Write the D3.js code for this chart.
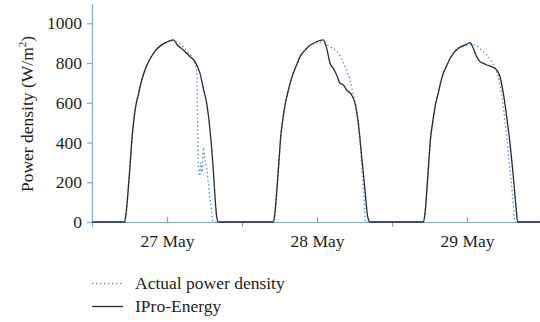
<!DOCTYPE html>
<html>
<head>
<meta charset="utf-8">
<script src="https://cdn.jsdelivr.net/npm/d3@7"></script>
<style>
  body { margin: 0; background: #fff; }
  svg { display: block; font-family: "Liberation Serif", "DejaVu Serif", serif; }
</style>
</head>
<body>
<svg id="chart" width="540" height="322"></svg>
<script>
// hours counted from 27 May 00:00
var dayLabels = ["27 May", "28 May", "29 May"];
var dayMidHours = [12, 36, 60];
var dayEdgeHours = [0, 24, 48, 72];
var yTicks = [0, 200, 400, 600, 800, 1000];

var iproHours = [0, 5.2, 5.44, 5.76, 6.08, 6.4, 6.72, 7.04, 7.41, 7.84, 8.21, 8.8, 9.28, 10.08, 10.88, 11.95, 13.0,
  13.65, 14.6, 15.68, 16.48, 17.28, 17.81, 18.35, 18.88, 19.41, 19.68, 19.95, 20.21,
  29.0, 29.25, 29.55, 29.9, 30.2, 30.55, 30.9, 31.3, 31.8, 32.2, 32.8, 33.3, 34.1, 34.6, 35.9, 37.0,
  37.55, 38.08, 38.61, 39.15, 39.68, 40.21, 40.75, 41.55, 42.08, 42.61, 43.15, 43.68, 44.11, 44.48,
  53.0, 53.3, 53.6, 53.9, 54.2, 54.6, 54.95, 55.4, 55.8, 56.2, 56.8, 57.3, 58.6, 59.7, 60.5,
  61.0, 61.55, 62.08, 62.6, 63.15, 63.95, 64.75, 65.28, 65.81, 66.35, 66.88, 67.41, 67.84, 68.11, 72];
var iproValues = [0, 0, 40, 150, 280, 420, 520, 590, 640, 700, 740, 790, 820, 860, 885, 905, 916,
  891, 866, 832, 807, 748, 673, 597, 463, 262, 127, 27, 0,
  0, 40, 150, 300, 430, 520, 590, 648, 710, 748, 795, 832, 865, 882, 907, 916,
  874, 799, 773, 740, 698, 690, 664, 639, 597, 497, 329, 161, 27, 0,
  0, 50, 170, 310, 430, 520, 590, 648, 705, 748, 790, 824, 874, 891, 903,
  874, 832, 807, 799, 790, 782, 765, 731, 648, 530, 396, 228, 77, 0, 0];

var actualHours = [0, 5.2, 5.44, 5.76, 6.08, 6.4, 6.72, 7.04, 7.41, 7.84, 8.21, 8.8, 9.28, 10.08, 10.88, 11.95, 12.8,
  14.08, 15.2, 16.2, 16.75, 16.9, 17.0, 17.14, 17.25, 17.4, 17.6, 17.84, 18.0, 18.4, 18.7, 19.0, 19.3, 19.55, 19.75,
  29.0, 29.25, 29.55, 29.9, 30.2, 30.55, 30.9, 31.3, 31.8, 32.2, 32.8, 33.3, 34.1, 34.6, 35.9, 36.75,
  38.08, 39.41, 40.48, 41.28, 41.81, 42.35, 42.72, 43.15, 43.52, 43.79,
  53.0, 53.3, 53.6, 53.9, 54.2, 54.6, 54.95, 55.4, 55.8, 56.2, 56.8, 57.3, 58.6, 59.7, 60.4,
  61.28, 62.61, 63.95, 64.75, 65.28, 65.81, 66.35, 66.88, 67.31, 67.68, 72];
var actualValues = [0, 0, 40, 150, 280, 420, 520, 590, 640, 700, 740, 790, 820, 860, 885, 905, 912,
  896, 860, 815, 765, 500, 300, 240, 232, 300, 250, 375, 330, 260, 170, 90, 10, 0, 0,
  0, 40, 150, 300, 430, 520, 590, 648, 710, 748, 795, 832, 865, 882, 900, 905,
  882, 849, 782, 715, 639, 564, 463, 295, 127, 0,
  0, 50, 170, 310, 430, 520, 590, 648, 705, 748, 790, 824, 874, 885, 895,
  891, 857, 807, 756, 690, 580, 429, 262, 127, 0, 0];

var axisColor = "#7ea8d8";
var textColor = "#231f20";
var fontSize = "17.5px";

var svg = d3.select("#chart");
var x = d3.scaleLinear().domain([0, 72]).range([92, 542]);
var y = d3.scaleLinear().domain([0, 1100]).range([222, 3.4]);

// x axis: day boundaries ticks down, labels at mid-day with small ticks up
svg.append("g")
  .attr("transform", "translate(0," + y(0) + ")")
  .call(d3.axisBottom(x).tickValues(dayEdgeHours).tickSize(5).tickSizeOuter(0).tickFormat(""));
var xMinor = svg.append("g")
  .attr("transform", "translate(0," + y(0) + ")")
  .call(d3.axisBottom(x).tickValues(dayMidHours).tickSize(-5).tickPadding(13)
    .tickFormat(function (d, i) { return dayLabels[i]; }));
xMinor.select(".domain").remove();

svg.append("g")
  .attr("transform", "translate(" + x(0) + ",0)")
  .call(d3.axisLeft(y).tickValues(yTicks).tickSize(5).tickPadding(5).tickSizeOuter(0)
    .tickFormat(d3.format("d")));

svg.selectAll(".domain, .tick line").attr("stroke", axisColor).attr("stroke-width", 1.2);
svg.selectAll(".tick text").attr("fill", textColor).style("font-size", fontSize)
  .style("font-family", "'Liberation Serif', 'DejaVu Serif', serif");

var label = svg.append("text")
  .attr("transform", "translate(33,114) rotate(-90)")
  .attr("text-anchor", "middle")
  .attr("fill", textColor)
  .style("font-size", fontSize);
label.append("tspan").text("Power density (W/m");
label.append("tspan").attr("dy", -7).style("font-size", "11px").text("2");
label.append("tspan").attr("dy", 7).text(")");

var line = d3.line()
  .x(function (d) { return x(d[0]); })
  .y(function (d) { return y(d[1]); })
  .curve(d3.curveMonotoneX);

svg.append("path")
  .datum(d3.zip(actualHours, actualValues))
  .attr("fill", "none")
  .attr("stroke", "#5b8fd2")
  .attr("stroke-width", 1.4)
  .attr("stroke-dasharray", "1.4,2.6")
  .attr("d", line);

svg.append("path")
  .datum(d3.zip(iproHours, iproValues))
  .attr("fill", "none")
  .attr("stroke", "#2a2a2a")
  .attr("stroke-width", 1.3)
  .attr("d", line);

// legend
var legend = svg.append("g");
legend.append("line").attr("x1", 92).attr("x2", 123).attr("y1", 283.5).attr("y2", 283.5)
  .attr("stroke", "#5b8fd2").attr("stroke-width", 1.4).attr("stroke-dasharray", "1.4,2.6");
legend.append("text").attr("x", 135).attr("y", 289).attr("fill", textColor)
  .style("font-size", fontSize).text("Actual power density");
legend.append("line").attr("x1", 92).attr("x2", 123).attr("y1", 306.5).attr("y2", 306.5)
  .attr("stroke", "#2a2a2a").attr("stroke-width", 1.3);
legend.append("text").attr("x", 135).attr("y", 312).attr("fill", textColor)
  .style("font-size", fontSize).text("IPro-Energy");
</script>
</body>
</html>
